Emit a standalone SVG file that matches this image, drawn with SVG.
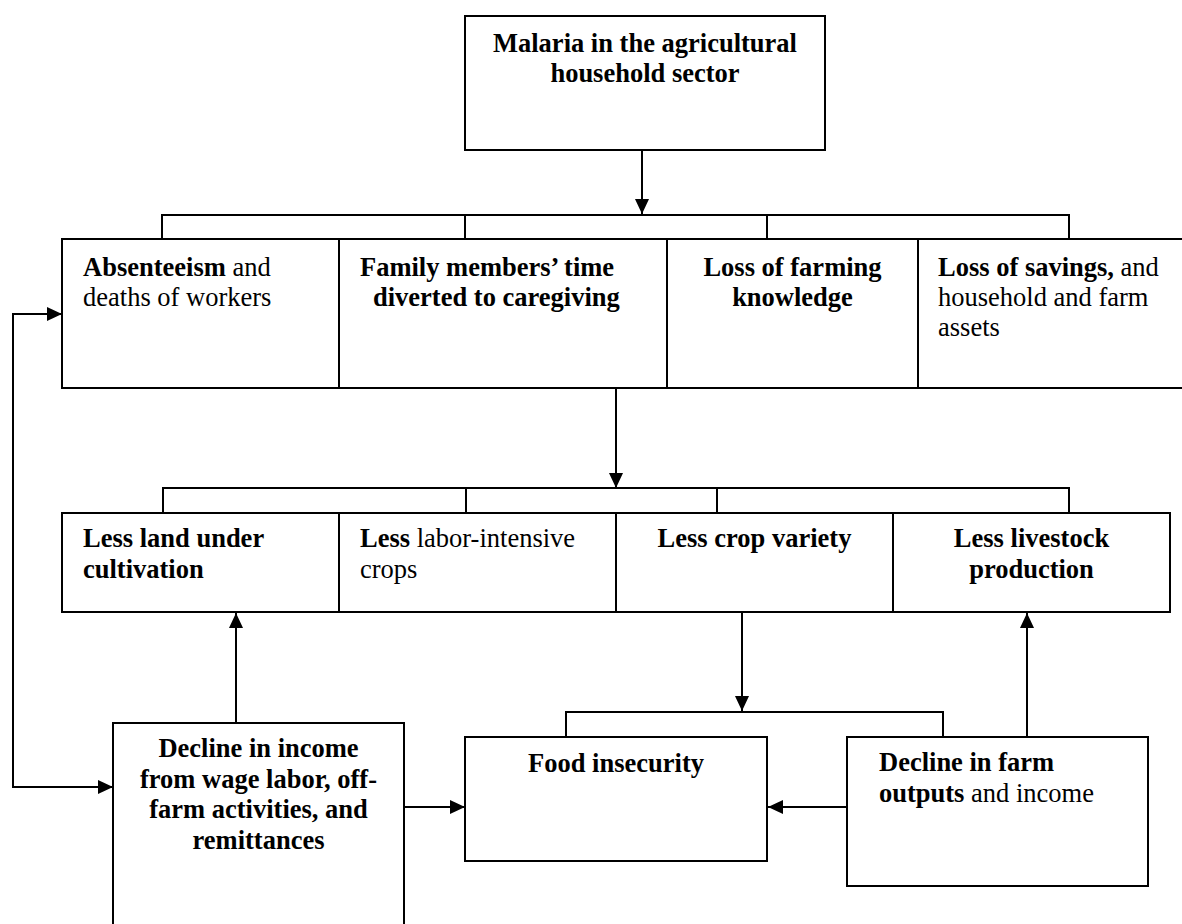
<svg xmlns="http://www.w3.org/2000/svg" width="1182" height="924" viewBox="0 0 1182 924">
<style>
  .box { fill: #fff; stroke: #000; stroke-width: 2; }
  .con { fill: none; stroke: #000; stroke-width: 2; }
  text { font-family: "Liberation Serif", "Times New Roman", serif; font-size: 26.5px; fill: #000; }
  .b { font-weight: bold; }
  .m { text-anchor: middle; }
</style>
<defs>
  <marker id="ah" markerUnits="userSpaceOnUse" viewBox="0 0 15 14" markerWidth="15" markerHeight="14" refX="15" refY="7" orient="auto-start-reverse">
    <path d="M0,0 L15,7 L0,14 z" fill="#000"/>
  </marker>
</defs>
<rect width="1182" height="924" fill="#fff"/>

<g id="connectors">
  <path class="con" d="M642,150 V214" marker-end="url(#ah)"/>
  <path class="con" d="M162,239 V215 H1069 V239 M465,215 V239 M767,215 V239"/>
  <path class="con" d="M616,388 V488" marker-end="url(#ah)"/>
  <path class="con" d="M163,513 V488 H1069 V513 M466,488 V513 M717,488 V513"/>
  <path class="con" d="M742,612 V711" marker-end="url(#ah)"/>
  <path class="con" d="M566,737 V712 H943 V737"/>
  <path class="con" d="M236,723 V613" marker-end="url(#ah)"/>
  <path class="con" d="M1027,737 V613" marker-end="url(#ah)"/>
  <path class="con" d="M404,807 H465" marker-end="url(#ah)"/>
  <path class="con" d="M847,807 H768" marker-end="url(#ah)"/>
  <path class="con" d="M62,314 H13 V787 H113" marker-start="url(#ah)" marker-end="url(#ah)"/>
</g>

<g id="malaria">
  <rect class="box" x="465" y="16" width="360" height="134"/>
  <text class="b m" x="645" y="52">Malaria in the agricultural</text>
  <text class="b m" x="645" y="82">household sector</text>
</g>

<g id="absenteeism">
  <rect class="box" x="62" y="239" width="277" height="149"/>
  <text x="83" y="276"><tspan class="b">Absenteeism</tspan> and</text>
  <text x="83" y="306">deaths of workers</text>
</g>
<g id="family-time">
  <rect class="box" x="339" y="239" width="328" height="149"/>
  <text class="b" x="360" y="276">Family members’ time</text>
  <text class="b" x="373" y="306">diverted to caregiving</text>
</g>
<g id="farming-knowledge">
  <rect class="box" x="667" y="239" width="251" height="149"/>
  <text class="b m" x="792.5" y="276">Loss of farming</text>
  <text class="b m" x="792.5" y="306">knowledge</text>
</g>
<g id="savings">
  <rect class="box" x="918" y="239" width="280" height="149"/>
  <text x="938" y="276"><tspan class="b">Loss of savings,</tspan> and</text>
  <text x="938" y="306">household and farm</text>
  <text x="938" y="336">assets</text>
</g>

<g id="less-land">
  <rect class="box" x="62" y="513" width="277" height="99"/>
  <text class="b" x="83" y="547">Less land under</text>
  <text class="b" x="83" y="578">cultivation</text>
</g>
<g id="less-labor">
  <rect class="box" x="339" y="513" width="277" height="99"/>
  <text x="360" y="547"><tspan class="b">Less</tspan> labor-intensive</text>
  <text x="360" y="578">crops</text>
</g>
<g id="less-crop">
  <rect class="box" x="616" y="513" width="277" height="99"/>
  <text class="b m" x="754.5" y="547">Less crop variety</text>
</g>
<g id="less-livestock">
  <rect class="box" x="893" y="513" width="277" height="99"/>
  <text class="b m" x="1031.5" y="547">Less livestock</text>
  <text class="b m" x="1031.5" y="578">production</text>
</g>

<g id="income-decline">
  <rect class="box" x="113" y="723" width="291" height="215"/>
  <text class="b m" x="258.5" y="757">Decline in income</text>
  <text class="b m" x="258.5" y="788">from wage labor, off-</text>
  <text class="b m" x="258.5" y="818">farm activities, and</text>
  <text class="b m" x="258.5" y="849">remittances</text>
</g>
<g id="food-insecurity">
  <rect class="box" x="465" y="737" width="302" height="124"/>
  <text class="b m" x="616" y="772">Food insecurity</text>
</g>
<g id="farm-output-decline">
  <rect class="box" x="847" y="737" width="301" height="149"/>
  <text class="b" x="879" y="771">Decline in farm</text>
  <text x="879" y="802"><tspan class="b">outputs</tspan> and income</text>
</g>
</svg>
